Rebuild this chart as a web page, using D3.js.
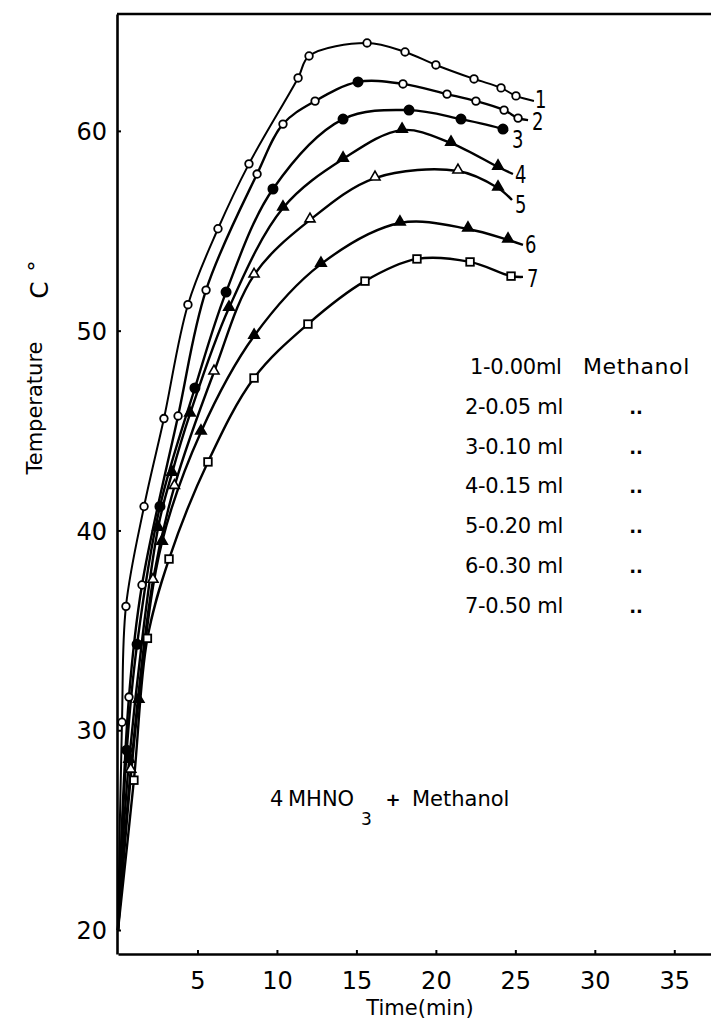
<!DOCTYPE html>
<html>
<head>
<meta charset="utf-8">
<script src="https://cdn.jsdelivr.net/npm/d3@7"></script>
<style>
  html, body { margin: 0; padding: 0; background: #fff; }
  svg { display: block; }
  text { font-family: "DejaVu Sans", sans-serif; fill: #000; }
</style>
</head>
<body>
<svg id="chart" width="711" height="1024"></svg>
<script>
// ---------- data ----------
const xTicks = [5, 10, 15, 20, 25, 30, 35];
const yTicks = [20, 30, 40, 50, 60];
const curveLabels = ["1", "2", "3", "4", "5", "6", "7"];
const legendDose = ["1-0.00ml", "2-0.05 ml", "3-0.10 ml", "4-0.15 ml", "5-0.20 ml", "6-0.30 ml", "7-0.50 ml"];
const legendSubstance = ["Methanol", "..", "..", "..", "..", "..", ".."];

// marker codes: o open circle, f filled circle, T filled triangle, t open triangle, s open square, "" none
const time1 = [0, 0.25, 0.5, 1.64, 2.89, 4.40, 6.29, 8.24, 11.33, 12.02, 15.67, 18.06, 20.0, 22.4, 24.1, 25.04, 26.17];
const temp1 = [20, 30.4, 36.2, 41.2, 45.6, 51.3, 55.1, 58.35, 62.65, 63.75, 64.4, 63.95, 63.3, 62.6, 62.15, 61.75, 61.5];
const mark1 = ["", "o", "o", "o", "o", "o", "o", "o", "o", "o", "o", "o", "o", "o", "o", "o", ""];

const time2 = [0, 0.69, 1.51, 3.78, 5.54, 8.75, 10.38, 12.4, 15.1, 17.93, 20.7, 22.52, 24.29, 25.17, 25.8];
const temp2 = [20, 31.66, 37.27, 45.73, 52.03, 57.84, 60.34, 61.49, 62.45, 62.35, 61.84, 61.49, 61.04, 60.64, 60.54];
const mark2 = ["", "o", "o", "o", "o", "o", "o", "o", "f", "o", "o", "o", "o", "o", ""];

const time3 = [0, 0.55, 1.2, 2.64, 4.84, 6.8, 9.75, 14.16, 18.31, 21.58, 24.22, 24.54];
const temp3 = [20, 29.0, 34.3, 41.2, 47.13, 51.93, 57.09, 60.59, 61.04, 60.59, 60.09, 59.99];
const mark3 = ["", "f", "f", "f", "f", "f", "f", "f", "f", "f", "f", ""];

const time4 = [0, 0.7, 2.52, 3.4, 4.53, 6.98, 10.38, 14.16, 17.87, 20.95, 23.91, 24.85];
const temp4 = [20, 28.5, 40.12, 42.87, 45.83, 51.13, 56.14, 58.59, 60.04, 59.39, 58.19, 57.84];
const mark4 = ["", "T", "T", "T", "T", "T", "T", "T", "T", "T", "T", ""];

const time5 = [0, 0.8, 2.2, 3.55, 6.04, 8.56, 12.08, 16.17, 21.39, 23.91, 24.79];
const temp5 = [20, 28.0, 37.5, 42.2, 47.93, 52.78, 55.54, 57.64, 57.99, 57.14, 56.54];
const mark5 = ["", "t", "t", "t", "t", "t", "t", "t", "t", "T", ""];

const time6 = [0, 1.3, 2.77, 5.22, 8.56, 12.77, 17.74, 22.02, 24.54, 25.48];
const temp6 = [20, 31.5, 39.42, 44.93, 49.73, 53.33, 55.39, 55.09, 54.54, 54.29];
const mark6 = ["", "T", "T", "T", "T", "T", "T", "T", "T", ""];

const time7 = [0, 1.0, 1.85, 3.21, 5.66, 8.56, 11.95, 15.54, 18.81, 22.15, 24.73, 25.48];
const temp7 = [20, 27.5, 34.6, 38.57, 43.43, 47.63, 50.33, 52.48, 53.59, 53.44, 52.73, 52.69];
const mark7 = ["", "s", "s", "s", "s", "s", "s", "s", "s", "s", "s", ""];

const seriesTimes = [time1, time2, time3, time4, time5, time6, time7];
const seriesTemps = [temp1, temp2, temp3, temp4, temp5, temp6, temp7];
const seriesMarks = [mark1, mark2, mark3, mark4, mark5, mark6, mark7];

// ---------- layout ----------
const svg = d3.select("#chart");
const plotL = 118, plotR = 711, plotT = 14, plotB = 954;
const x = d3.scaleLinear().domain([0, 37.31]).range([plotL, plotR]);
const y = d3.scaleLinear().domain([18.8, 65.85]).range([plotB, plotT]);

// frame top line
svg.append("line").attr("x1", plotL - 1).attr("x2", plotR).attr("y1", plotT).attr("y2", plotT)
  .attr("stroke", "#000").attr("stroke-width", 2.4);

const xAxis = svg.append("g").attr("transform", `translate(0,${plotB})`)
  .call(d3.axisBottom(x).tickValues(xTicks).tickSize(-4).tickSizeOuter(0).tickFormat(d3.format("d")));
xAxis.select(".domain").attr("stroke-width", 2.6);
xAxis.selectAll(".tick line").attr("stroke-width", 2);
xAxis.selectAll(".tick text").attr("y", 35).attr("dy", null)
  .style("font-size", "24px").style("font-family", "DejaVu Sans, sans-serif");

const yAxis = svg.append("g").attr("transform", `translate(${plotL - 1},0)`)
  .call(d3.axisLeft(y).tickValues(yTicks).tickSize(-4).tickSizeOuter(0).tickPadding(10).tickFormat(d3.format("d")));
yAxis.select(".domain").attr("stroke-width", 2.6);
yAxis.selectAll(".tick line").attr("stroke-width", 2);
yAxis.selectAll(".tick text").attr("dy", "0.36em")
  .style("font-size", "24px").style("font-family", "DejaVu Sans, sans-serif");

// axis titles
svg.append("text").attr("transform", "translate(420,1015)").attr("text-anchor", "middle")
  .style("font-size", "21px").text("Time(min)");
svg.append("text").attr("transform", "translate(42,408) rotate(-90)").attr("text-anchor", "middle")
  .style("font-size", "21px").text("Temperature");
svg.append("text").attr("transform", "translate(48,290) rotate(-90)").attr("text-anchor", "middle")
  .style("font-size", "25px").text("C");
svg.append("text").attr("transform", "translate(44,266) rotate(-90)").attr("text-anchor", "middle")
  .style("font-size", "22px").text("°");

// curves
const line = d3.line().x(d => x(d.t)).y(d => y(d.T)).curve(d3.curveCatmullRom.alpha(0.5));
const series = seriesTimes.map((ts, i) => ts.map((t, j) => ({ t, T: seriesTemps[i][j], m: seriesMarks[i][j] })));

const gLines = svg.append("g");
series.forEach((pts, i) => {
  gLines.append("path").datum(pts).attr("d", line)
    .attr("fill", "none").attr("stroke", "#000").attr("stroke-width", i === 0 ? 2.0 : 2.4)
    .attr("stroke-linejoin", "round");
});

const gMarks = svg.append("g");
series.forEach(pts => {
  pts.filter(d => d.m).forEach(d => {
    const cx = x(d.t), cy = y(d.T);
    if (d.m === "o" || d.m === "f") {
      gMarks.append("circle").attr("cx", cx).attr("cy", cy).attr("r", d.m === "f" ? 4.6 : 3.8)
        .attr("fill", d.m === "f" ? "#000" : "#fff").attr("stroke", "#000").attr("stroke-width", 1.8);
    } else if (d.m === "T" || d.m === "t") {
      gMarks.append("path").attr("d", d3.symbol(d3.symbolTriangle, d.m === "T" ? 48 : 44)())
        .attr("transform", `translate(${cx},${cy - 1})`)
        .attr("fill", d.m === "T" ? "#000" : "#fff").attr("stroke", "#000").attr("stroke-width", 1.6);
    } else if (d.m === "s") {
      gMarks.append("rect").attr("x", cx - 3.8).attr("y", cy - 3.8).attr("width", 7.6).attr("height", 7.6)
        .attr("fill", "#fff").attr("stroke", "#000").attr("stroke-width", 1.8);
    }
  });
});

// curve number labels just after each line end (layout offsets, px)
const labelDx = [1, 4, 4, 2, 3, 2, 4];
const labelDy = [7, 10, 17, 9, 13, 8, 10];
series.forEach((pts, i) => {
  const last = pts[pts.length - 1];
  svg.append("text")
    .attr("transform", `translate(${x(last.t) + labelDx[i]},${y(last.T) + labelDy[i]}) scale(0.72,1)`)
    .style("font-size", "25px")
    .text(curveLabels[i]);
});

// legend
const legendY0 = 374, legendStep = 39.8;
legendDose.forEach((txt, i) => {
  svg.append("text").attr("x", i === 0 ? 470 : 465).attr("y", legendY0 + i * legendStep)
    .style("font-size", "21px").style("letter-spacing", "-0.3px").text(txt);
  if (i === 0) {
    svg.append("text").attr("x", 583).attr("y", legendY0).style("font-size", "22px")
      .style("letter-spacing", "0.6px").text(legendSubstance[i]);
  } else {
    svg.append("text").attr("x", 636).attr("y", legendY0 + i * legendStep).attr("text-anchor", "middle")
      .style("font-size", "18px").style("font-weight", "bold").text(legendSubstance[i]);
  }
});

// reaction label
svg.append("text").attr("x", 270).attr("y", 806).style("font-size", "21px").text("4");
svg.append("text").attr("x", 288).attr("y", 806).style("font-size", "21px").text("MHNO");
svg.append("text").attr("x", 361).attr("y", 825).style("font-size", "17px").text("3");
svg.append("text").attr("x", 393).attr("y", 806).attr("text-anchor", "middle").style("font-size", "18px").style("font-weight", "bold").text("+");
svg.append("text").attr("x", 412).attr("y", 806).style("font-size", "21px").text("Methanol");
</script>
</body>
</html>
